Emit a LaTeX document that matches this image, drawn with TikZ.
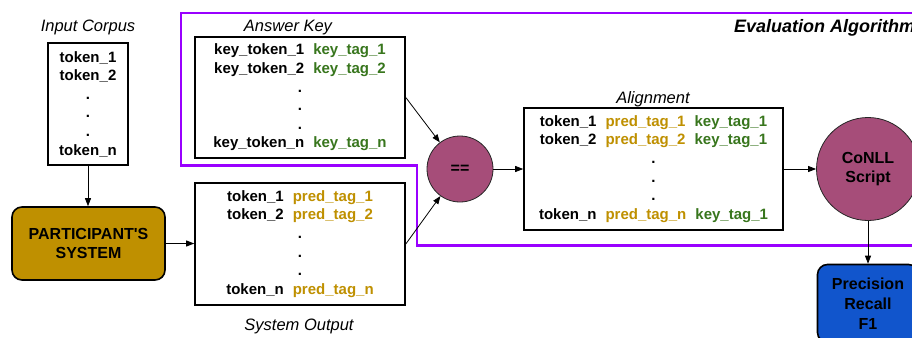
\documentclass[tikz,border=0pt]{standalone}
\usepackage{fontspec}
\setmainfont{Liberation Sans}
\usetikzlibrary{arrows.meta}
\definecolor{evalpurple}{HTML}{9900FF}
\definecolor{tagGold}{HTML}{BF9000}
\definecolor{tagGreen}{HTML}{38761D}
\definecolor{opMagenta}{HTML}{A64D79}
\definecolor{scoreBlue}{HTML}{1155CC}
\newcommand{\gapA}{\hspace{9pt}}
\newcommand{\gold}[1]{\textcolor{tagGold}{#1}}
\newcommand{\green}[1]{\textcolor{tagGreen}{#1}}
\begin{document}
\begin{tikzpicture}[x=1pt,y=-1pt,
  databox/.style={draw=black, line width=1.6pt, fill=white, inner sep=0pt,
    font=\fontsize{15}{18.6}\selectfont\bfseries, align=center},
  caption/.style={font=\fontsize{16.5}{19}\selectfont\itshape, anchor=base, inner sep=0pt},
  procbox/.style={draw=black, line width=1.6pt, rounded corners=10pt, inner sep=0pt,
    font=\fontsize{16}{19.5}\selectfont\bfseries, align=center},
  opcircle/.style={circle, draw=black!85, line width=0.8pt, fill=opMagenta, inner sep=0pt,
    font=\fontsize{16}{19}\selectfont\bfseries, align=center},
  flow/.style={-{Triangle[length=8pt,width=6pt]}, line width=0.8pt}
]
\useasboundingbox (0,0) rectangle (912,337);
\clip (0,0) rectangle (912,337);

% evaluation region outline
\draw[evalpurple, line width=2.2pt]
  (181,13) -- (940,13) -- (940,245.5) -- (417,245.5) -- (417,165.5) -- (181,165.5) -- cycle;
\node[font=\fontsize{18}{20}\selectfont\bfseries\itshape, anchor=base west, inner sep=0pt]
  (evaltitle) at (734,32.5) {Evaluation Algorithm};

% input corpus
\node[caption] (incap) at (88,31.5) {Input Corpus};
\node[databox, minimum width=80pt, minimum height=122pt] (corpus) at (88,104)
  {token\_1\\token\_2\\.\\.\\.\\token\_n};

% participant system
\node[procbox, fill=tagGold, minimum width=153pt, minimum height=73pt] (system) at (88.5,243.5)
  {PARTICIPANT\textquotesingle S\\SYSTEM};

% answer key
\node[caption] (akcap) at (288,31.5) {Answer Key};
\node[databox, minimum width=210pt, minimum height=121pt] (answer) at (300,97.5)
  {key\_token\_1\gapA\green{key\_tag\_1}\\
   key\_token\_2\gapA\green{key\_tag\_2}\\.\\.\\.\\
   key\_token\_n\gapA\green{key\_tag\_n}};

% system output
\node[databox, minimum width=210pt, minimum height=122pt] (output) at (300,244)
  {token\_1\gapA\gold{pred\_tag\_1}\\
   token\_2\gapA\gold{pred\_tag\_2}\\.\\.\\.\\
   token\_n\gapA\gold{pred\_tag\_n}};
\node[caption] (socap) at (299,330.5) {System Output};

% comparison
\node[opcircle, minimum size=66pt] (eq) at (460,169) {==};

% alignment
\node[caption] (alcap) at (653,103.5) {Alignment};
\node[databox, minimum width=259pt, minimum height=122pt] (align) at (653.5,169)
  {token\_1\gapA\gold{pred\_tag\_1}\gapA\green{key\_tag\_1}\\
   token\_2\gapA\gold{pred\_tag\_2}\gapA\green{key\_tag\_1}\\.\\.\\.\\
   token\_n\gapA\gold{pred\_tag\_n}\gapA\green{key\_tag\_1}};

% scoring
\node[opcircle, minimum size=103pt] (conll) at (868,169) {CoNLL\\Script};
\node[procbox, fill=scoreBlue, minimum width=101pt, minimum height=78pt,
  font=\fontsize{16}{20}\selectfont\bfseries] (scores) at (868,303.5)
  {Precision\\Recall\\F1};

% connectors
\draw[flow] (corpus.south) -- (system.north -| corpus.south);
\draw[flow] (system.east) -- (output.west |- system.east);
\draw[flow] (answer.east) -- (eq);
\draw[flow] (output.east) -- (eq);
\draw[flow] (eq.east) -- (align.west);
\draw[flow] (align.east) -- (conll.west);
\draw[flow] (conll.south) -- (scores.north);
\end{tikzpicture}
\end{document}
